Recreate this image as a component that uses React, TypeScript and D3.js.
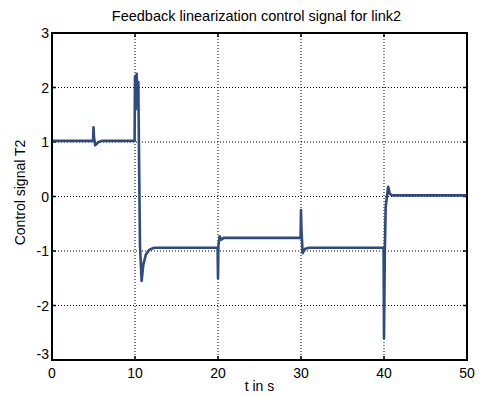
import React, { useEffect, useRef } from 'react';
import * as d3 from 'd3';

// time (s) and control signal T2
const timeS = [
  0, 4.95, 5.0, 5.05, 5.2, 5.6, 6.0,
  9.95, 10.0, 10.1, 10.2, 10.3, 10.4, 10.5, 10.6, 10.8, 11.0, 11.3, 11.7, 12.3,
  19.95, 20.0, 20.05, 20.2, 20.4, 20.7,
  29.95, 30.0, 30.05, 30.2, 30.5, 31.0,
  39.95, 40.0, 40.1, 40.2, 40.5, 40.7, 41.0, 50,
];
const signalT2 = [
  1.02, 1.02, 1.27, 1.1, 0.94, 1.0, 1.02,
  1.02, 2.2, 1.6, 2.25, 1.7, 2.1, 0.5, -0.9, -1.55, -1.25, -1.07, -0.98, -0.94,
  -0.94, -1.5, -0.9, -0.73, -0.79, -0.76,
  -0.76, -0.25, -0.6, -1.04, -0.96, -0.94,
  -0.94, -2.6, -1.0, -0.2, 0.18, 0.05, 0.02, 0.02,
];
const xTicks = [0, 10, 20, 30, 40, 50];
const yTicks = [-3, -2, -1, 0, 1, 2, 3];

export default function App() {
  const ref = useRef<SVGSVGElement>(null);

  useEffect(() => {
    const svg = d3.select(ref.current);
    svg.selectAll('*').remove();

    const width = 482;
    const height = 397;
    const m = { top: 33, right: 15, bottom: 37, left: 52 };
    const font = 'Liberation Sans, Arial, sans-serif';

    const x = d3.scaleLinear().domain([0, 50]).range([m.left, width - m.right]);
    const y = d3.scaleLinear().domain([-3, 3]).range([height - m.bottom, m.top]);

    svg.append('rect').attr('width', width).attr('height', height).attr('fill', '#fff');

    // grid
    const grid = svg.append('g').attr('stroke', '#000').attr('stroke-width', 1).attr('stroke-dasharray', '1,2');
    grid.selectAll('.gx').data(xTicks.slice(1, -1)).enter().append('line')
      .attr('x1', d => x(d)).attr('x2', d => x(d)).attr('y1', m.top).attr('y2', height - m.bottom);
    grid.selectAll('.gy').data(yTicks.slice(1, -1)).enter().append('line')
      .attr('y1', d => y(d)).attr('y2', d => y(d)).attr('x1', m.left).attr('x2', width - m.right);

    // inward ticks
    const tk = svg.append('g').attr('stroke', '#000').attr('stroke-width', 1.5);
    xTicks.forEach(d => {
      tk.append('line').attr('x1', x(d)).attr('x2', x(d)).attr('y1', height - m.bottom).attr('y2', height - m.bottom - 4);
      tk.append('line').attr('x1', x(d)).attr('x2', x(d)).attr('y1', m.top).attr('y2', m.top + 4);
    });
    yTicks.forEach(d => {
      tk.append('line').attr('y1', y(d)).attr('y2', y(d)).attr('x1', m.left).attr('x2', m.left + 4);
      tk.append('line').attr('y1', y(d)).attr('y2', y(d)).attr('x1', width - m.right).attr('x2', width - m.right - 4);
    });

    // signal
    const line = d3.line<number>().x((_, i) => x(timeS[i])).y(d => y(d));
    svg.append('path').datum(signalT2).attr('d', line)
      .attr('fill', 'none').attr('stroke', '#2e4a80').attr('stroke-width', 2.6)
      .attr('stroke-linejoin', 'round');

    // frame
    svg.append('rect').attr('x', m.left).attr('y', m.top)
      .attr('width', width - m.left - m.right).attr('height', height - m.top - m.bottom)
      .attr('fill', 'none').attr('stroke', '#000').attr('stroke-width', 2);

    // tick labels
    svg.append('g').selectAll('text').data(xTicks).enter().append('text')
      .attr('x', d => x(d)).attr('y', height - m.bottom + 18)
      .attr('text-anchor', 'middle').style('font-family', font).style('font-size', '14px')
      .text(d => d);
    svg.append('g').selectAll('text').data(yTicks).enter().append('text')
      .attr('x', m.left - 3).attr('y', d => y(d) + (d === -3 ? -1 : 5))
      .attr('text-anchor', 'end').style('font-family', font).style('font-size', '14px')
      .text(d => d);

    // titles
    svg.append('text').attr('x', (m.left + width - m.right) / 2 - 3).attr('y', 21)
      .attr('text-anchor', 'middle').style('font-family', font).style('font-size', '14.5px')
      .text('Feedback linearization control signal for link2');
    svg.append('text').attr('x', (m.left + width - m.right) / 2).attr('y', 391)
      .attr('text-anchor', 'middle').style('font-family', font).style('font-size', '14px')
      .text('t in s');
    svg.append('text').attr('transform', `translate(25,${(m.top + height - m.bottom) / 2 - 4}) rotate(-90)`)
      .attr('text-anchor', 'middle').style('font-family', font).style('font-size', '14px')
      .text('Control signal T2');
  }, []);

  return (
    <svg ref={ref} width={482} height={397}
      style={{ position: 'absolute', left: 0, top: 0, display: 'block' }} />
  );
}
